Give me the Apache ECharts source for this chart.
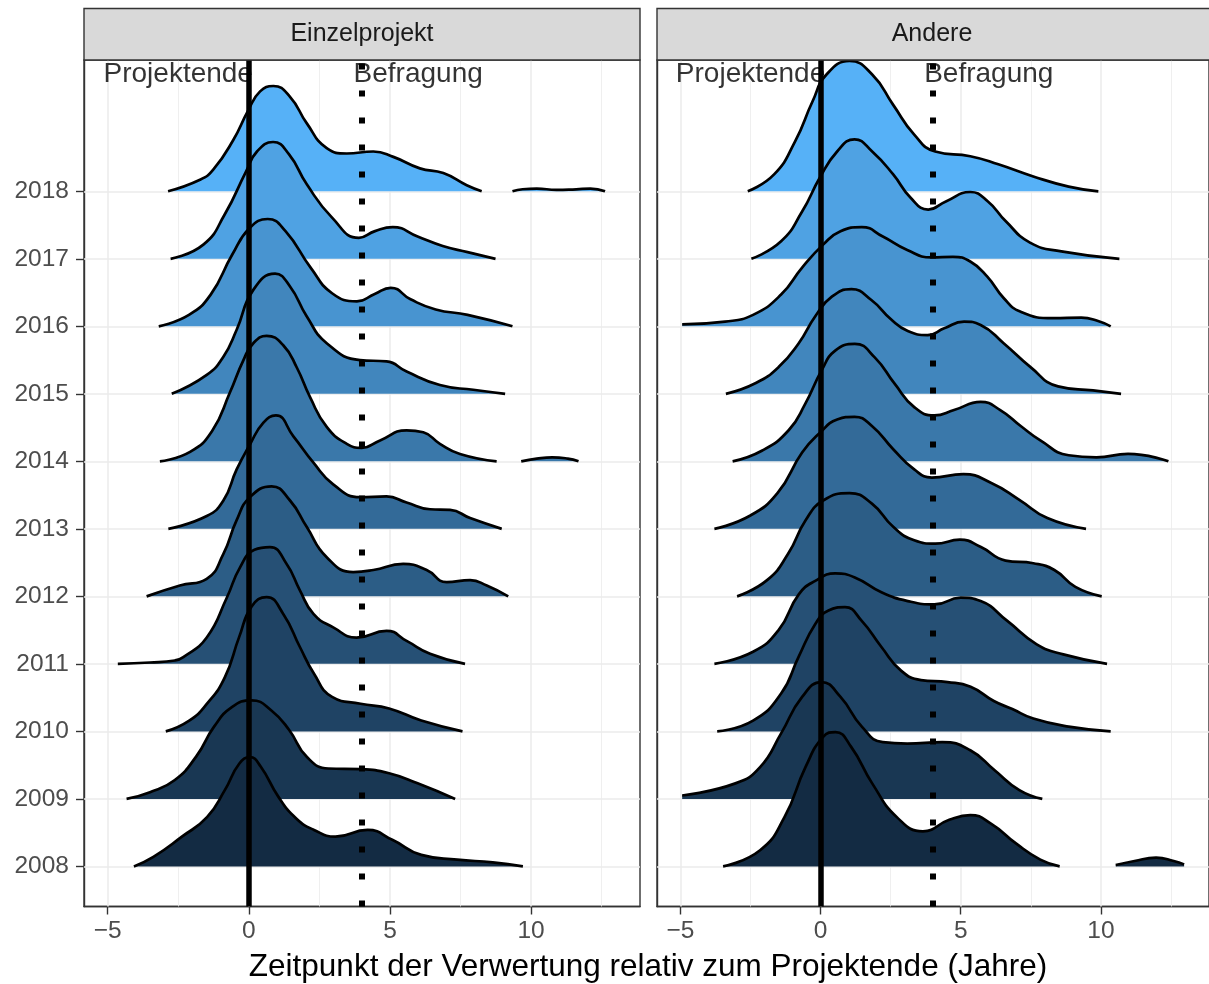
<!DOCTYPE html>
<html><head><meta charset="utf-8">
<script src="https://cdn.jsdelivr.net/npm/echarts@6/dist/echarts.min.js"></script>
<style>html,body{margin:0;padding:0;background:#fff}#c{width:1209px;height:984px}</style>
</head><body><div id="c"></div>
<script>
// ---------- DATA (x = years relative to project end, h = ridge height in year units) ----------
const YEARS = [2008, 2009, 2010, 2011, 2012, 2013, 2014, 2015, 2016, 2017, 2018];
const X_TICKS = [-5, 0, 5, 10];
const X_MINOR = [-2.5, 2.5, 7.5, 12.5];
const PANELS = ['Einzelprojekt', 'Andere'];
const ANNOT_X = [-2.5, 6.0];
const ANNOT_LABELS = ['Projektende', 'Befragung'];
const ANNOT_Y = 2019.73;
const VLINE_END = 0;
const VLINE_SURVEY = 4;

// Einzelprojekt
const E2018 = [[-2.86,0],[-1.73,0.17],[-1.26,0.32],[-0.55,0.76],[-0.02,1.20],[0.40,1.48],[0.87,1.56],[1.46,1.40],[2.05,1.01],[2.76,0.64],[3.47,0.56],[4.41,0.59],[5.12,0.51],[6.06,0.34],[6.89,0.27],[7.72,0.09],[8.25,0]];
const E2018b = [[9.34,0],[9.7,0.03],[10.2,0.04],[10.9,0.02],[11.6,0.03],[12.1,0.04],[12.62,0]];
const E2017 = [[-2.77,0],[-1.61,0.21],[-0.85,0.66],[-0.09,1.30],[0.29,1.59],[0.86,1.73],[1.42,1.55],[2.06,1.10],[2.95,0.61],[3.90,0.31],[4.47,0.41],[5.10,0.47],[5.98,0.33],[6.87,0.19],[7.75,0.10],[8.74,0]];
const E2016 = [[-3.19,0],[-2.12,0.17],[-1.35,0.47],[-0.59,1.06],[0.04,1.46],[0.67,1.59],[1.30,1.41],[2.19,0.87],[2.95,0.49],[3.83,0.37],[4.46,0.48],[5.03,0.57],[5.73,0.40],[6.62,0.25],[7.75,0.17],[9.34,0]];
const E2015 = [[-2.73,0],[-1.49,0.28],[-0.90,0.55],[-0.43,0.95],[0.16,1.54],[0.93,1.78],[1.46,1.59],[2.05,1.15],[2.76,0.75],[3.94,0.50],[4.88,0.48],[5.59,0.33],[6.77,0.13],[7.95,0.06],[9.08,0]];
const E2014 = [[-3.15,0],[-2.08,0.14],[-1.30,0.45],[-0.67,1.02],[-0.19,1.50],[0.16,1.75],[0.63,1.86],[1.22,1.72],[1.70,1.39],[2.17,0.95],[2.76,0.51],[3.47,0.26],[4.0,0.20],[4.65,0.31],[5.59,0.46],[6.18,0.43],[6.77,0.26],[7.48,0.11],[8.78,0]];
const E2014b = [[9.65,0],[10.2,0.04],[10.75,0.06],[11.3,0.04],[11.68,0]];
const E2013 = [[-2.85,0],[-1.49,0.19],[-0.90,0.42],[-0.43,0.88],[0.04,1.25],[0.51,1.57],[0.96,1.68],[1.58,1.37],[2.29,0.98],[2.99,0.66],[3.94,0.47],[4.88,0.48],[5.59,0.39],[6.42,0.29],[7.13,0.28],[7.84,0.16],[8.96,0]];
const E2012 = [[-3.62,0],[-2.44,0.16],[-1.49,0.26],[-0.90,0.63],[-0.43,1.13],[0.04,1.47],[0.81,1.63],[1.46,1.42],[2.05,1.03],[2.76,0.58],[3.70,0.36],[4.41,0.39],[5.47,0.48],[6.30,0.39],[7.01,0.21],[7.84,0.24],[8.43,0.16],[9.19,0]];
const E2011 = [[-4.64,0],[-3.5,0.02],[-2.62,0.05],[-2.32,0.10],[-1.49,0.39],[-0.78,0.98],[-0.31,1.43],[0.20,1.69],[0.75,1.73],[1.34,1.48],[1.81,1.09],[2.29,0.74],[2.99,0.54],[3.82,0.39],[4.88,0.49],[5.59,0.34],[6.42,0.15],[7.66,0]];
const E2010 = [[-2.94,0],[-2.11,0.16],[-1.48,0.41],[-0.85,0.80],[-0.34,1.40],[0.10,1.85],[0.63,1.99],[1.22,1.74],[1.81,1.25],[2.29,0.87],[2.95,0.51],[3.96,0.41],[4.97,0.34],[6.11,0.16],[7.57,0]];
const E2009 = [[-4.33,0],[-3.5,0.10],[-2.62,0.28],[-1.86,0.63],[-1.23,1.07],[-0.60,1.36],[0.10,1.46],[0.80,1.31],[1.43,1.02],[2.06,0.62],[2.82,0.45],[3.96,0.44],[4.97,0.38],[5.98,0.23],[7.31,0]];
const E2008 = [[-4.07,0],[-3.38,0.14],[-2.37,0.44],[-1.48,0.73],[-0.85,1.13],[-0.34,1.52],[0.04,1.62],[0.42,1.48],[1.05,1.03],[1.68,0.71],[2.31,0.54],[3.07,0.44],[4.21,0.54],[5.10,0.39],[6.11,0.17],[7.38,0.10],[8.64,0.06],[9.71,0]];

// Andere
const A2018 = [[-2.60,0],[-1.66,0.25],[-0.91,0.74],[-0.29,1.33],[0.21,1.73],[1.03,1.93],[1.84,1.73],[2.59,1.28],[3.34,0.84],[4.09,0.59],[5.34,0.52],[6.34,0.40],[7.59,0.22],[8.85,0.07],[9.91,0]];
const A2017 = [[-2.47,0],[-1.41,0.26],[-0.66,0.70],[-0.03,1.20],[0.59,1.59],[1.21,1.77],[1.84,1.59],[2.59,1.25],[3.22,0.90],[3.84,0.73],[4.47,0.85],[5.34,0.99],[5.97,0.85],[6.60,0.56],[7.47,0.24],[8.59,0.11],[10.66,0]];
const A2016 = [[-4.94,0.03],[-3.41,0.07],[-2.41,0.17],[-1.41,0.47],[-0.66,0.87],[0.09,1.21],[0.71,1.41],[1.47,1.47],[2.22,1.33],[3.09,1.13],[3.96,1.02],[4.72,1.03],[5.34,0.96],[5.94,0.74],[6.53,0.42],[7.12,0.22],[8.30,0.12],[9.30,0.13],[9.90,0.08],[10.35,0]];
const A2015 = [[-3.38,0],[-2.31,0.16],[-1.49,0.40],[-0.78,0.75],[-0.19,1.15],[0.40,1.44],[1.10,1.55],[1.81,1.39],[2.52,1.10],[3.11,0.93],[3.82,0.87],[4.41,0.97],[5.12,1.07],[5.71,1.02],[6.53,0.75],[7.48,0.40],[8.47,0.11],[9.72,0.05],[10.72,0]];
const A2014 = [[-3.14,0],[-2.08,0.16],[-1.14,0.46],[-0.55,0.85],[0.04,1.35],[0.52,1.64],[1.22,1.74],[1.93,1.54],[2.64,1.15],[3.35,0.80],[4.06,0.68],[4.76,0.76],[5.71,0.88],[6.41,0.76],[7.15,0.52],[7.84,0.31],[8.85,0.09],[9.84,0.06],[10.97,0.11],[12.41,0]];
const A2013 = [[-3.79,0],[-2.54,0.19],[-1.54,0.53],[-0.66,1.13],[-0.03,1.42],[0.59,1.62],[1.21,1.66],[1.84,1.52],[2.59,1.18],[3.34,0.88],[3.97,0.76],[5.09,0.81],[6.09,0.68],[7.09,0.43],[8.09,0.16],[9.47,0]];
const A2012 = [[-2.98,0],[-1.91,0.24],[-1.16,0.63],[-0.53,1.13],[0.09,1.42],[1.03,1.53],[1.84,1.37],[2.59,1.03],[3.34,0.83],[4.09,0.78],[4.97,0.84],[5.72,0.73],[6.60,0.53],[7.59,0.49],[8.34,0.39],[9.09,0.14],[10.03,0]];
const A2011 = [[-3.79,0],[-2.41,0.18],[-1.50,0.50],[-0.78,1.03],[-0.19,1.23],[0.52,1.34],[1.22,1.28],[2.17,1.06],[3.11,0.93],[4.06,0.88],[5.0,0.98],[5.71,0.93],[6.65,0.64],[7.71,0.29],[8.66,0.14],[10.22,0]];
const A2010 = [[-3.69,0],[-2.41,0.16],[-1.41,0.56],[-0.79,1.10],[-0.19,1.59],[0.28,1.79],[0.87,1.84],[1.46,1.64],[2.17,1.25],[2.87,0.90],[3.58,0.76],[4.53,0.73],[5.35,0.66],[6.18,0.45],[6.84,0.33],[7.59,0.19],[8.85,0.07],[10.35,0]];
const A2009 = [[-4.94,0.05],[-3.04,0.23],[-2.16,0.47],[-1.41,0.97],[-0.66,1.51],[0.03,1.73],[0.71,1.51],[1.47,1.07],[2.22,0.84],[3.09,0.82],[4.34,0.84],[5.34,0.72],[6.22,0.42],[7.09,0.13],[7.91,0]];
const A2008 = [[-3.48,0],[-2.16,0.24],[-1.29,0.73],[-0.54,1.47],[0.09,1.92],[0.53,1.99],[1.09,1.77],[1.84,1.23],[2.72,0.73],[3.65,0.52],[4.59,0.69],[5.34,0.76],[6.09,0.63],[6.97,0.34],[7.84,0.10],[8.53,0]];
const A2008b = [[10.53,0.02],[11.2,0.08],[11.97,0.13],[12.6,0.08],[12.97,0.03]];

// ridge lists per panel: [year, curve]
const LEFT_RIDGES = [[2018,E2018],[2018,E2018b],[2017,E2017],[2016,E2016],[2015,E2015],[2014,E2014],[2014,E2014b],[2013,E2013],[2012,E2012],[2011,E2011],[2010,E2010],[2009,E2009],[2008,E2008]];
const RIGHT_RIDGES = [[2018,A2018],[2017,A2017],[2016,A2016],[2015,A2015],[2014,A2014],[2013,A2013],[2012,A2012],[2011,A2011],[2010,A2010],[2009,A2009],[2008,A2008],[2008,A2008b]];

// ---------- colour scale (ggplot default continuous, Lab interpolation) ----------
function toLin(c){c/=255;return c<=0.04045?c/12.92:Math.pow((c+0.055)/1.055,2.4);}
function toSrgb(c){const v=c<=0.0031308?12.92*c:1.055*Math.pow(c,1/2.4)-0.055;return Math.round(Math.max(0,Math.min(1,v))*255);}
function hexToLab(h){
  const r=toLin(parseInt(h.substr(1,2),16)),g=toLin(parseInt(h.substr(3,2),16)),b=toLin(parseInt(h.substr(5,2),16));
  const X=(0.4124*r+0.3576*g+0.1805*b)/0.95047,Y=(0.2126*r+0.7152*g+0.0722*b),Z=(0.0193*r+0.1192*g+0.9505*b)/1.08883;
  const f=t=>t>0.008856?Math.cbrt(t):7.787*t+16/116;
  const fx=f(X),fy=f(Y),fz=f(Z);
  return [116*fy-16,500*(fx-fy),200*(fy-fz)];
}
function labToHex(L,a,b){
  const fy=(L+16)/116,fx=fy+a/500,fz=fy-b/200;
  const fi=t=>{const t3=t*t*t;return t3>0.008856?t3:(t-16/116)/7.787;};
  const X=fi(fx)*0.95047,Y=fi(fy),Z=fi(fz)*1.08883;
  const r=3.2406*X-1.5372*Y-0.4986*Z,g=-0.9689*X+1.8758*Y+0.0415*Z,bb=0.0557*X-0.2040*Y+1.0570*Z;
  return 'rgb('+toSrgb(r)+','+toSrgb(g)+','+toSrgb(bb)+')';
}
const LOW=hexToLab('#132B43'), HIGH=hexToLab('#56B1F7');
function fillFor(year){
  const t=(year-YEARS[0])/(YEARS[YEARS.length-1]-YEARS[0]);
  return labToHex(LOW[0]+(HIGH[0]-LOW[0])*t,LOW[1]+(HIGH[1]-LOW[1])*t,LOW[2]+(HIGH[2]-LOW[2])*t);
}

// ---------- layout ----------
const FONT = "'Liberation Sans', Arial, Helvetica, sans-serif";
const X_MIN=-5.838, X_MAX=13.858, Y_MIN=2007.406, Y_MAX=2019.945;
const GRIDS=[{left:84,top:60,width:556,height:846.5},{left:657,top:60,width:556,height:846.5}];
const fmtMinus = v => String(v).replace('-', '\u2212');

const grids = GRIDS.map(g => Object.assign({show:true,borderColor:'#333333',borderWidth:1.4,backgroundColor:'#ffffff',containLabel:false}, g));
const xAxes = GRIDS.map((g,i) => ({
  type:'value', gridIndex:i, min:X_MIN, max:X_MAX,
  axisLine:{show:true,onZero:false,lineStyle:{color:'#333333',width:1.4}},
  axisTick:{show:true,length:8,customValues:X_TICKS,lineStyle:{color:'#333333',width:1.4}},
  axisLabel:{show:true,customValues:X_TICKS,formatter:fmtMinus,fontSize:24.5,color:'#4D4D4D',fontFamily:FONT,margin:12},
  splitLine:{show:false}, minorSplitLine:{show:false}
}));
const yAxes = GRIDS.map((g,i) => ({
  type:'value', gridIndex:i, min:Y_MIN, max:Y_MAX,
  axisLine:{show:true,onZero:false,lineStyle:{color:'#333333',width:1.4}},
  axisTick:{show:i===0,length:8,customValues:YEARS,lineStyle:{color:'#333333',width:1.4}},
  axisLabel:{show:i===0,customValues:YEARS,formatter:v=>String(v),fontSize:24.5,color:'#4D4D4D',fontFamily:FONT,margin:15},
  splitLine:{show:false}
}));

const series = [];
GRIDS.forEach((g,i) => {
  // background grid lines (below ridges)
  series.push({
    type:'scatter', xAxisIndex:i, yAxisIndex:i, data:[[X_MIN,Y_MIN]], symbolSize:0, silent:true, z:1,
    markLine:{silent:true, z:1, symbol:['none','none'], label:{show:false}, animation:false,
      data: [].concat(
        X_MINOR.map(v=>({xAxis:v,lineStyle:{color:'#EBEBEB',width:0.8,type:'solid'}})),
        X_TICKS.map(v=>({xAxis:v,lineStyle:{color:'#EBEBEB',width:1.5,type:'solid'}})),
        YEARS.map(v=>({yAxis:v,lineStyle:{color:'#EBEBEB',width:1.5,type:'solid'}}))
      )}
  });
  const ridges = i===0 ? LEFT_RIDGES : RIGHT_RIDGES;
  ridges.forEach(([year,curve]) => {
    series.push({
      type:'line', xAxisIndex:i, yAxisIndex:i, z:2, silent:true, animation:false,
      data: curve.map(([x,h]) => [x, year+h]),
      smooth:0.5, showSymbol:false, symbol:'none',
      lineStyle:{color:'#000000',width:2.7,join:'round'},
      areaStyle:{color:fillFor(year),opacity:1,origin:year}
    });
  });
  // annotation labels
  series.push({
    type:'scatter', xAxisIndex:i, yAxisIndex:i, z:8, silent:true, symbolSize:0, animation:false,
    data: ANNOT_X.map((x,k)=>[x, ANNOT_Y, ANNOT_LABELS[k]]),
    label:{show:true, position:'inside', formatter:p=>p.data[2], fontSize:28, color:'#000', fontFamily:FONT}
  });
  // vertical reference lines
  series.push({
    type:'scatter', xAxisIndex:i, yAxisIndex:i, z:10, silent:true, symbolSize:0, data:[[X_MIN,Y_MIN]],
    markLine:{silent:true, z:20, symbol:['none','none'], label:{show:false}, animation:false,
      data:[
        {xAxis:VLINE_END, lineStyle:{color:'#000',width:5.5,type:'solid'}},
        {xAxis:VLINE_SURVEY, lineStyle:{color:'#000',width:6,type:[6,21],cap:'butt'}}
      ]}
  });
});

const graphic = [];
GRIDS.forEach((g,i) => {
  graphic.push({type:'rect', shape:{x:g.left, y:8.5, width:g.width, height:51.5}, style:{fill:'#D9D9D9', stroke:'#333333', lineWidth:1.4}, z:100});
  graphic.push({type:'text', x:g.left+g.width/2 - (i===1?3:0), y:34, style:{text:PANELS[i], fontSize:25, fill:'#1A1A1A', fontFamily:FONT, align:'center', verticalAlign:'middle'}, z:101});
});
graphic.push({type:'text', x:648, y:967, style:{text:'Zeitpunkt der Verwertung relativ zum Projektende (Jahre)', fontSize:31.5, fill:'#000', fontFamily:FONT, align:'center', verticalAlign:'middle'}, z:101});

const chart = echarts.init(document.getElementById('c'), null, {renderer:'canvas'});
chart.setOption({animation:false, backgroundColor:'#ffffff', grid:grids, xAxis:xAxes, yAxis:yAxes, series:series, graphic:graphic});
</script></body></html>
